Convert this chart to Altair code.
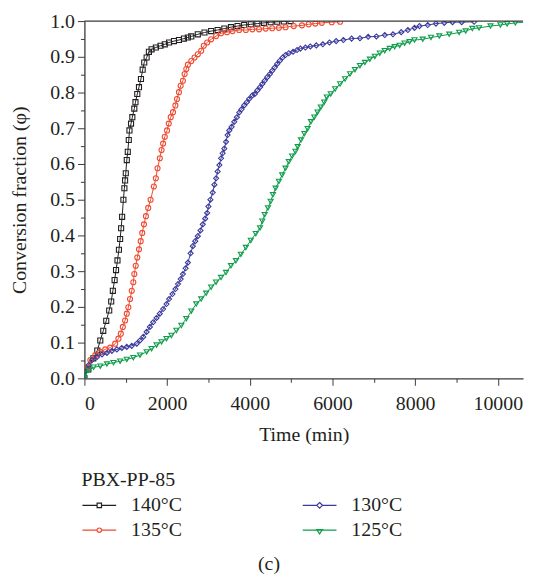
import altair as alt
import pandas as pd

FONT = "Liberation Serif"
TEXT = "#231f20"
AXIS = "#3a3a3a"
FS = 20

# legend fills its 2 columns top-to-bottom
series = ["140°C", "135°C", "130°C", "125°C"]
series_colors = ["#231f20", "#ef4b32", "#3b3b9c", "#0e9d4b"]
series_shapes = ["square", "circle", "diamond", "triangle-down"]
legend_symbols = [
    "M-1,0H-0.13M0.13,0H1M-0.13,-0.13H0.13V0.13H-0.13Z",
    "M-1,0H-0.13M0.13,0H1M0.13,0A0.13,0.13,0,1,1,-0.13,0A0.13,0.13,0,1,1,0.13,0Z",
    "M-1,0H-0.17M0.17,0H1M0,-0.17L0.17,0L0,0.17L-0.17,0Z",
    "M-1,0H1M-0.17,-0.04L0.17,-0.04L0,0.22Z",
]

x_ticks = [0, 2000, 4000, 6000, 8000, 10000]
x_minor = [1000, 3000, 5000, 7000, 9000]
y_ticks = [0.0, 0.1, 0.2, 0.3, 0.4, 0.5, 0.6, 0.7, 0.8, 0.9, 1.0]
y_minor = [0.05, 0.15, 0.25, 0.35, 0.45, 0.55, 0.65, 0.75, 0.85, 0.95]

t_140 = [0, 96, 216, 312, 384, 456, 528, 600, 648, 688,
         730, 765, 800, 835, 864, 888, 912, 943, 967, 984,
         1001, 1025, 1049, 1073, 1090, 1128, 1159, 1207, 1235, 1279,
         1320, 1368, 1409, 1447, 1505, 1560, 1625, 1728, 1841, 1944,
         2047, 2167, 2287, 2407, 2503, 2585, 2743, 2904, 3065, 3223,
         3384, 3545, 3703, 3864, 4025, 4183, 4344, 4505, 4663, 4824,
         4985]
phi_140 = [0.0, 0.025, 0.056, 0.078, 0.106, 0.133, 0.161, 0.190, 0.215, 0.245,
           0.275, 0.303, 0.330, 0.360, 0.390, 0.420, 0.452, 0.500, 0.532, 0.554,
           0.574, 0.611, 0.634, 0.667, 0.694, 0.713, 0.731, 0.755, 0.773, 0.796,
           0.815, 0.838, 0.864, 0.884, 0.898, 0.914, 0.921, 0.926, 0.931, 0.935,
           0.940, 0.944, 0.947, 0.951, 0.954, 0.957, 0.963, 0.968, 0.972, 0.975,
           0.979, 0.983, 0.986, 0.989, 0.991, 0.993, 0.995, 0.997, 0.998, 0.999,
           1.000]

t_135 = [0, 72, 144, 264, 384, 504, 624, 744, 823, 881,
         929, 984, 1025, 1063, 1104, 1145, 1183, 1207, 1241, 1279,
         1320, 1361, 1399, 1440, 1488, 1543, 1601, 1680, 1728, 1769,
         1824, 1865, 1903, 1944, 1999, 2040, 2088, 2143, 2201, 2239,
         2287, 2328, 2383, 2424, 2465, 2503, 2585, 2664, 2743, 2825,
         2887, 2969, 3065, 3185, 3305, 3449, 3583, 3744, 3905, 4063,
         4224, 4385, 4543, 4704, 4865, 5064, 5263, 5424, 5585, 5743,
         5983, 6185]
phi_135 = [0.0, 0.030, 0.051, 0.065, 0.074, 0.081, 0.086, 0.097, 0.111, 0.125,
           0.144, 0.162, 0.181, 0.199, 0.222, 0.245, 0.269, 0.292, 0.315, 0.338,
           0.361, 0.384, 0.407, 0.431, 0.454, 0.477, 0.500, 0.537, 0.560, 0.588,
           0.616, 0.639, 0.657, 0.676, 0.694, 0.713, 0.731, 0.745, 0.764, 0.782,
           0.801, 0.819, 0.833, 0.852, 0.866, 0.878, 0.888, 0.898, 0.907, 0.917,
           0.931, 0.940, 0.949, 0.958, 0.966, 0.969, 0.972, 0.975, 0.975, 0.977,
           0.977, 0.979, 0.980, 0.981, 0.983, 0.986, 0.988, 0.991, 0.993, 0.995,
           0.997, 0.998]

t_130 = [0, 24, 103, 185, 305, 425, 545, 665, 785, 905,
         1025, 1145, 1265, 1344, 1423, 1505, 1584, 1663, 1745, 1824,
         1903, 1985, 2047, 2129, 2201, 2263, 2328, 2383, 2448, 2503,
         2568, 2623, 2681, 2743, 2808, 2863, 2921, 2969, 3000, 3048,
         3103, 3144, 3185, 3223, 3264, 3305, 3343, 3384, 3425, 3463,
         3504, 3559, 3624, 3689, 3744, 3799, 3864, 3929, 3984, 4063,
         4121, 4183, 4248, 4303, 4361, 4423, 4488, 4543, 4601, 4663,
         4728, 4793, 4865, 4944, 5047, 5143, 5225, 5345, 5465, 5609,
         5767, 5928, 6089, 6264, 6463, 6665, 6864, 7063, 7265, 7464,
         7663, 7824, 7985, 8105, 8304, 8503, 8705, 8904, 9127, 9425]
phi_130 = [0.0, 0.019, 0.037, 0.051, 0.060, 0.067, 0.071, 0.077, 0.081, 0.085,
           0.088, 0.091, 0.097, 0.106, 0.116, 0.130, 0.144, 0.157, 0.169, 0.181,
           0.194, 0.208, 0.222, 0.236, 0.250, 0.264, 0.278, 0.292, 0.308, 0.324,
           0.350, 0.370, 0.384, 0.398, 0.414, 0.431, 0.447, 0.463, 0.481, 0.500,
           0.520, 0.542, 0.560, 0.579, 0.597, 0.616, 0.630, 0.643, 0.662, 0.681,
           0.694, 0.704, 0.718, 0.731, 0.744, 0.753, 0.764, 0.773, 0.782, 0.792,
           0.796, 0.806, 0.815, 0.824, 0.833, 0.843, 0.852, 0.861, 0.870, 0.880,
           0.889, 0.898, 0.905, 0.910, 0.914, 0.919, 0.923, 0.926, 0.929, 0.932,
           0.935, 0.940, 0.944, 0.947, 0.951, 0.952, 0.956, 0.957, 0.961, 0.963,
           0.969, 0.975, 0.981, 0.986, 0.989, 0.993, 0.995, 0.997, 0.997, 0.998]

t_125 = [0, 24, 103, 223, 384, 545, 703, 864, 1025, 1183,
         1344, 1505, 1625, 1745, 1865, 1985, 2105, 2225, 2345, 2465,
         2585, 2705, 2825, 2945, 3065, 3185, 3305, 3425, 3545, 3665,
         3785, 3905, 4025, 4145, 4248, 4303, 4361, 4440, 4505, 4560,
         4625, 4704, 4783, 4865, 4944, 5023, 5105, 5160, 5239, 5321,
         5400, 5479, 5561, 5640, 5719, 5801, 5863, 5959, 6065, 6185,
         6305, 6425, 6545, 6665, 6785, 6905, 7025, 7145, 7265, 7385,
         7505, 7625, 7745, 7865, 7985, 8184, 8383, 8585, 8825, 9065,
         9223, 9384, 9545, 9823, 10063, 10224, 10423, 10663]
phi_125 = [0.0, 0.014, 0.023, 0.031, 0.034, 0.040, 0.044, 0.048, 0.053, 0.058,
           0.065, 0.074, 0.083, 0.093, 0.102, 0.111, 0.120, 0.134, 0.148, 0.167,
           0.188, 0.208, 0.222, 0.238, 0.255, 0.269, 0.282, 0.296, 0.315, 0.329,
           0.347, 0.366, 0.386, 0.405, 0.421, 0.440, 0.458, 0.477, 0.495, 0.514,
           0.532, 0.551, 0.569, 0.588, 0.606, 0.622, 0.635, 0.648, 0.667, 0.685,
           0.699, 0.718, 0.731, 0.745, 0.759, 0.773, 0.787, 0.796, 0.810, 0.824,
           0.838, 0.852, 0.864, 0.875, 0.884, 0.893, 0.901, 0.910, 0.917, 0.923,
           0.928, 0.932, 0.938, 0.942, 0.947, 0.949, 0.954, 0.958, 0.963, 0.968,
           0.972, 0.979, 0.981, 0.986, 0.989, 0.992, 0.995, 0.997]

rows = []
for name, ts, ps in [("140°C", t_140, phi_140), ("135°C", t_135, phi_135),
                     ("130°C", t_130, phi_130), ("125°C", t_125, phi_125)]:
    assert len(ts) == len(ps), name
    for t, p in zip(ts, ps):
        rows.append({"series": name, "time": t, "phi": p})
df = pd.DataFrame(rows)
top_df = pd.DataFrame({"top": [1.0]})

xscale = alt.Scale(domain=[0, 10610], nice=False, zero=False)
yscale = alt.Scale(domain=[0, 1], nice=False, zero=False)

color_enc = alt.Color("series:N", scale=alt.Scale(domain=series, range=series_colors), legend=None)
x_none = alt.X("time:Q", scale=xscale, axis=None)
y_none = alt.Y("phi:Q", scale=yscale, axis=None)

lines = alt.Chart(df).mark_line(strokeWidth=1, clip=True).encode(
    x=alt.X("time:Q", scale=xscale,
            axis=alt.Axis(orient="bottom", values=x_ticks, format="d", title="Time (min)",
                          tickSize=7, labelPadding=8, titlePadding=12)),
    y=alt.Y("phi:Q", scale=yscale,
            axis=alt.Axis(orient="left", values=y_ticks, format=".1f",
                          title="Conversion fraction (φ)",
                          tickSize=7, labelPadding=3, titlePadding=20)),
    color=color_enc,
)

points = alt.Chart(df).mark_point(filled=False, size=26, strokeWidth=1.1, opacity=1, clip=True).encode(
    x=x_none, y=y_none, color=color_enc,
    shape=alt.Shape("series:N", scale=alt.Scale(domain=series, range=series_shapes), legend=None),
)

def make_legend():
    return alt.Legend(
        title="PBX-PP-85", orient="none", legendX=-3, legendY=452,
        columns=2, columnPadding=120, rowPadding=1, clipHeight=24,
        symbolSize=1156, symbolStrokeWidth=1.2, symbolOpacity=1, labelOffset=14,
        labelFont=FONT, labelFontSize=FS, labelColor=TEXT,
        titleFont=FONT, titleFontSize=FS, titleFontWeight="normal", titleColor=TEXT,
        titlePadding=4,
    )

legend_layer = alt.Chart(df).mark_point(filled=False, opacity=0).encode(
    x=x_none, y=y_none,
    color=alt.Color("series:N", scale=alt.Scale(domain=series, range=series_colors),
                    legend=make_legend()),
    shape=alt.Shape("series:N", scale=alt.Scale(domain=series, range=legend_symbols),
                    legend=make_legend()),
)

minor = alt.Chart(df).mark_point(opacity=0).encode(
    x=alt.X("time:Q", scale=xscale,
            axis=alt.Axis(orient="bottom", values=x_minor, labels=False, tickSize=4,
                          domain=False, title=None)),
    y=alt.Y("phi:Q", scale=yscale,
            axis=alt.Axis(orient="left", values=y_minor, labels=False, tickSize=4,
                          domain=False, title=None)),
)

top_line = alt.Chart(top_df).mark_rule(color=AXIS, strokeWidth=1.3).encode(
    y=alt.Y("top:Q", scale=yscale, axis=None)
)

chart = alt.layer(lines, points, legend_layer, minor, top_line).resolve_scale(
    color="independent", shape="independent"
).resolve_axis(
    x="independent", y="independent"
).properties(
    width=442, height=360,
    padding={"left": 2, "top": 1, "right": 0, "bottom": 0},
    title=alt.TitleParams(text="(c)", orient="bottom", anchor="middle", font=FONT,
                          fontSize=FS, fontWeight="normal", color=TEXT, offset=12, dx=-35),
).configure_view(stroke=None).configure_axis(
    labelFont=FONT, labelFontSize=FS, labelColor=TEXT,
    titleFont=FONT, titleFontSize=FS, titleFontWeight="normal", titleColor=TEXT,
    domainColor=AXIS, domainWidth=1.3, tickColor=AXIS, tickWidth=1, grid=False,
)

chart.save("out.html", embed_options={"renderer": "svg", "actions": False})
